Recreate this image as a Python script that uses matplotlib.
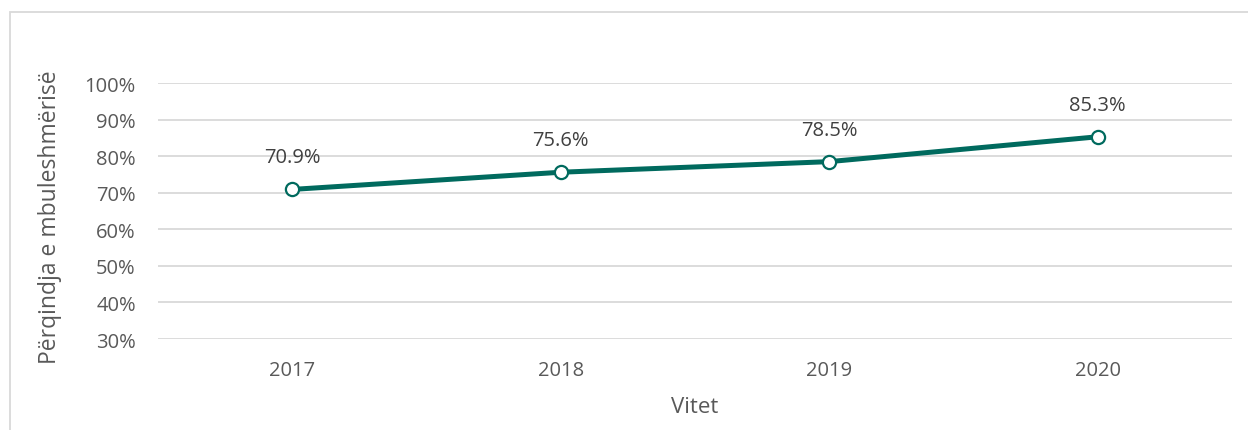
import matplotlib.pyplot as plt
from matplotlib.patches import Rectangle

# te dhenat
vitet = ["2017", "2018", "2019", "2020"]
perqindja = [70.9, 75.6, 78.5, 85.3]
yticks = [30, 40, 50, 60, 70, 80, 90, 100]

plt.rcParams['font.family'] = ['Open Sans', 'DejaVu Sans']
gri = "#595959"
ngjyra = "#006A5E"

fig = plt.figure(figsize=(12.48, 4.31), dpi=100)
ax = fig.add_axes([158/1248, 1-340/431, (1232-158)/1248, (340-84)/431])

x = list(range(len(vitet)))
ax.plot(x, perqindja, color=ngjyra, lw=3.6, marker="o", ms=9.5,
        mfc="white", mec=ngjyra, mew=1.6, zorder=3, solid_capstyle="round")

for xi, v in zip(x, perqindja):
    ax.annotate(f"{v:.1f}%", (xi, v), xytext=(0, 23), textcoords="offset points",
                ha="center", va="center", fontsize=14.5, color="#404040")

ax.set_xlim(-0.5, 3.5)
ax.set_ylim(30, 100)
ax.set_yticks(yticks)
ax.set_yticklabels([f"{t}%" for t in yticks])
ax.set_xticks(x)
ax.set_xticklabels(vitet)
ax.tick_params(length=0, labelsize=14.5, labelcolor=gri)
ax.tick_params(axis="y", pad=16)
ax.tick_params(axis="x", pad=15)
ax.grid(axis="y", color="#d9d9d9", lw=1.3)
ax.set_axisbelow(True)
for s in ax.spines.values():
    s.set_visible(False)

fig.text(50/1248, 1-217/431, "Përqindja e mbuleshmërisë", rotation=90,
         ha="center", va="center", fontsize=16.5, color=gri)
fig.text(695/1248, 1-408/431, "Vitet", ha="center", va="center",
         fontsize=16, color=gri)

# korniza (vetem lart dhe majtas jane te dukshme)
fig.patches.append(Rectangle((10/1248, -0.1), 1.1, 1.1-13/431,
                             transform=fig.transFigure, fill=False,
                             ec="#d9d9d9", lw=1.3))

fig.savefig("out.png", dpi=100)
